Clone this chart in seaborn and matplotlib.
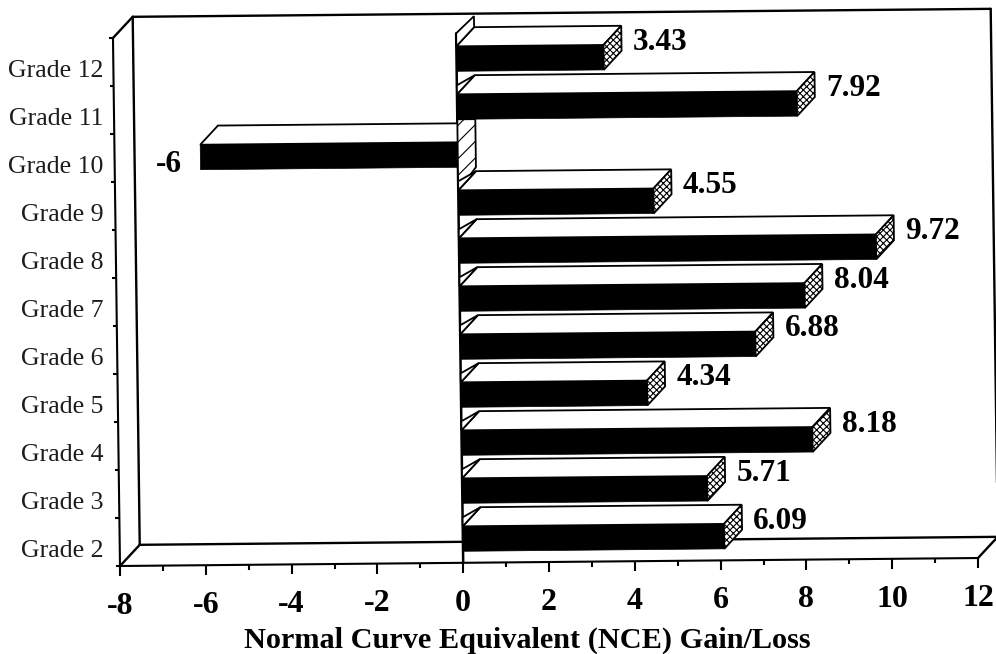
import matplotlib
matplotlib.use("Agg")
import matplotlib.pyplot as plt
import matplotlib.transforms as mtrans
from matplotlib.axes import Axes
from matplotlib.patches import Polygon
import pandas as pd
import seaborn as sns

grades = ["Grade 12", "Grade 11", "Grade 10", "Grade 9", "Grade 8", "Grade 7",
          "Grade 6", "Grade 5", "Grade 4", "Grade 3", "Grade 2"]
gains = [3.43, 7.92, -6, 4.55, 9.72, 8.04, 6.88, 4.34, 8.18, 5.71, 6.09]
value_labels = ["3.43", "7.92", "-6", "4.55", "9.72", "8.04", "6.88", "4.34", "8.18", "5.71", "6.09"]
x_ticks = [-8, -6, -4, -2, 0, 2, 4, 6, 8, 10, 12]
x_minor = [-7, -5, -3, -1, 1, 3, 5, 7, 9, 11]
x_title = "Normal Curve Equivalent (NCE) Gain/Loss"

W, H = 996, 654
X0, Y0 = 120, H - 566
SX, SY = 0.0133, 0.0093   # the scanned page sits slightly crooked
PX_X = 858 / 20
PX_Y = 48
SERIF = "Liberation Serif"


class CrookedAxes(Axes):
    """Ordinary axes whose drawing is tilted like the scanned original."""
    def _set_lim_and_transforms(self):
        super()._set_lim_and_transforms()
        tilt = mtrans.Affine2D.from_values(1, SY, -SX, 1, SX * Y0, -SY * X0)
        self._ytext_base = self._yaxis_transform
        self.transData = self.transData + tilt
        self._xaxis_transform = self._xaxis_transform + tilt
        self._yaxis_transform = self._yaxis_transform + tilt

    def get_yaxis_text1_transform(self, pad_points):
        off = mtrans.ScaledTranslation(-pad_points / 72, -5 / 72, self.figure.dpi_scale_trans)
        return self._ytext_base + off, "center_baseline", "right"


sns.set_theme(style="white")
plt.rcParams["font.family"] = [SERIF, "DejaVu Serif"]
plt.rcParams["hatch.linewidth"] = 0.8

fig = plt.figure(figsize=(W / 100, H / 100), dpi=100, facecolor="white")
ax = fig.add_axes([X0 / W, Y0 / H, 858 / W, 528 / H], axes_class=CrookedAxes)
ax.set_facecolor("none")

df = pd.DataFrame({"grade": grades, "gain": gains})
sns.barplot(data=df, y="grade", x="gain", order=grades, orient="h", color="black",
            saturation=1, width=0.52, edgecolor="black", linewidth=0.5, ax=ax, zorder=4)

ax.set_xlim(-8, 12)
ax.set_ylim(len(grades) - 0.5, -0.5)
ylo, yhi = ax.get_ylim()

# depth of the fake 3-D box and bars, in data units
bx, by = 20 / PX_X, -21 / PX_Y
dx, dy = 18 / PX_X, -19 / PX_Y
py = 1 / PX_Y

# back wall and floor
wall = dict(color="black", lw=1.7, clip_on=False, zorder=1, solid_capstyle="round")
ax.plot([-8 + bx, 12 + bx], [yhi + by, yhi + by], **wall)
ax.plot([12 + bx, 12 + bx], [yhi + by, ylo + by], **wall)
ax.plot([-8 + bx, 12 + bx], [ylo + by, ylo + by], **wall)
ax.plot([-8 + bx, -8 + bx], [yhi + by, ylo + by], **wall)
ax.plot([-8, -8 + bx], [ylo, ylo + by], **wall)
ax.plot([12, 12 + bx], [ylo, ylo + by], **wall)
ax.plot([-8, -8 + bx], [yhi, yhi + by], **wall)

# zero plane line at the left end of the bars
bars = list(ax.patches)
top_of_first = min(b.get_y() for b in bars) - 13 * py
ax.plot([0, 0], [top_of_first, ylo], color="black", lw=1.8, clip_on=False, zorder=2)

face = dict(closed=True, clip_on=False, edgecolor="black", linewidth=1.3, zorder=5)
for i, (bar, label, val) in enumerate(zip(bars, value_labels, gains)):
    ft, fb = bar.get_y(), bar.get_y() + bar.get_height()
    end = bar.get_x() + bar.get_width()
    lo, hi = min(0, end), max(0, end)
    ax.add_patch(Polygon([(lo, ft), (hi, ft), (hi + dx, ft + dy), (lo + dx, ft + dy)],
                         facecolor="white", **face))
    if val > 0:
        # stippled end of the bar
        ax.add_patch(Polygon([(hi, ft), (hi + dx, ft + dy), (hi + dx, fb + dy), (hi, fb)],
                             facecolor="white", hatch="xxxxx", **face))
        # wedge of the zero plane showing at the left of the bar top
        if i == 0:
            ax.add_patch(Polygon([(0, ft), (0, ft - 13 * py), (dx, ft - 30 * py), (dx, ft + dy)],
                                 facecolor="white", **face))
        else:
            ax.add_patch(Polygon([(0, ft), (0, ft - 9 * py), (dx, ft + dy)],
                                 facecolor="white", **face))
        ax.annotate(label, xy=(end, (ft + fb) / 2), xytext=(21, 11), textcoords="offset points",
                    ha="left", va="center", fontsize=22.5, fontweight="bold", color="black",
                    annotation_clip=False, zorder=6)
    else:
        # the negative bar ends on a hatched piece of the zero plane
        ax.add_patch(Polygon([(0, ft - 23 * py), (dx, ft - 23 * py), (dx, fb),
                              (0.12, fb + 17 * py), (0, fb + 17 * py)],
                             facecolor="white", hatch="//", **face))
        ax.annotate(label, xy=(end, (ft + fb) / 2), xytext=(-13, -5), textcoords="offset points",
                    ha="right", va="center", fontsize=22.5, fontweight="bold", color="black",
                    annotation_clip=False, zorder=6)

for s in ["top", "right"]:
    ax.spines[s].set_visible(False)
for s in ["left", "bottom"]:
    ax.spines[s].set_linewidth(1.5)
    ax.spines[s].set_color("black")
    ax.spines[s].set_zorder(3)

ax.set_xticks(x_ticks)
ax.set_xticks(x_minor, minor=True)
ax.set_xticklabels([str(t) for t in x_ticks], fontsize=23, fontweight="bold", color="black")
ax.tick_params(axis="x", which="major", length=7.5, width=1.5, pad=11, color="black", bottom=True)
ax.tick_params(axis="x", which="minor", length=3.5, width=1.5, color="black", bottom=True)

ax.set_yticks(range(len(grades)))
ax.set_yticklabels(grades, fontsize=18.5, color="#1c1c1c")
ax.set_yticks([i - 0.5 for i in range(len(grades) + 1)], minor=True)
ax.tick_params(axis="y", which="major", length=0, pad=12)
ax.tick_params(axis="y", which="minor", length=3, width=1.5, color="black", left=True)
ax.set_ylabel("")
ax.set_xlabel(x_title, fontsize=21.8, fontweight="bold", color="black")
ax.xaxis.set_label_coords((527 - X0) / 858, (566 - 640) / 528)
ax.xaxis.label.set_verticalalignment("center")

fig.savefig("out.png", dpi=100, facecolor="white")
